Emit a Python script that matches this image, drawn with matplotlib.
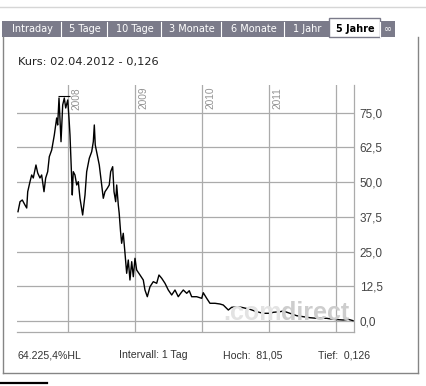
import matplotlib
matplotlib.use("Agg")
import matplotlib.pyplot as plt
from matplotlib.patches import Rectangle
from matplotlib.lines import Line2D

W, H = 426, 386

# Kursverlauf, Zeit als Dezimaljahr, Kurs in EUR
jahre = [2007.254, 2007.284, 2007.318, 2007.358, 2007.384, 2007.399, 2007.433, 2007.458,
         2007.482, 2007.522, 2007.548, 2007.582, 2007.607, 2007.642, 2007.667, 2007.697,
         2007.721, 2007.757, 2007.796, 2007.831, 2007.846, 2007.866, 2007.896, 2007.921,
         2007.945, 2007.966, 2007.996, 2008.015, 2008.030, 2008.055, 2008.064, 2008.079,
         2008.104, 2008.130, 2008.154, 2008.179, 2008.219, 2008.254, 2008.279, 2008.318,
         2008.354, 2008.378, 2008.393, 2008.407, 2008.437, 2008.467, 2008.503, 2008.527,
         2008.552, 2008.587, 2008.616, 2008.637, 2008.667, 2008.687, 2008.712, 2008.727,
         2008.751, 2008.764, 2008.784, 2008.801, 2008.825, 2008.851, 2008.876, 2008.900,
         2008.925, 2008.951, 2008.975, 2009.000, 2009.025, 2009.075, 2009.124, 2009.149,
         2009.184, 2009.224, 2009.273, 2009.324, 2009.358, 2009.399, 2009.448, 2009.497,
         2009.548, 2009.597, 2009.646, 2009.682, 2009.721, 2009.772, 2009.810, 2009.846,
         2009.921, 2009.996, 2010.019, 2010.070, 2010.119, 2010.194, 2010.269, 2010.318,
         2010.393, 2010.443, 2010.542, 2010.616, 2010.716, 2010.816, 2010.915, 2011.015,
         2011.064, 2011.164, 2011.213, 2011.313, 2011.413, 2011.512, 2011.612, 2011.712,
         2011.861, 2011.960, 2012.109, 2012.184, 2012.254]
kurs = [39.37, 42.97, 43.58, 41.78, 40.70, 46.57, 50.17, 52.59,
        51.51, 56.19, 53.31, 51.51, 52.59, 46.57, 51.51, 53.78,
        59.18, 61.59, 67.00, 73.12, 70.60, 80.32, 64.58, 77.80,
        80.32, 76.72, 79.60, 73.12, 67.00, 51.40, 45.39, 53.78,
        52.59, 48.99, 50.17, 44.20, 38.18, 45.39, 53.78, 58.61,
        60.98, 64.58, 70.60, 63.40, 59.79, 56.19, 48.99, 44.20,
        46.57, 47.80, 48.99, 53.78, 55.58, 46.57, 42.97, 48.99,
        41.78, 38.90, 32.40, 27.99, 31.59, 24.39, 17.18, 21.97,
        14.77, 21.36, 15.96, 22.58, 18.37, 16.57, 14.77, 11.17,
        8.75, 12.35, 14.16, 13.58, 16.57, 15.38, 13.58, 11.17,
        9.37, 11.17, 8.75, 9.98, 11.17, 9.98, 10.91, 8.75,
        8.75, 8.18, 10.19, 8.18, 6.38, 6.38, 6.12, 5.76,
        3.96, 4.93, 5.15, 4.79, 4.21, 3.35, 2.77, 2.77,
        3.13, 3.35, 3.60, 2.77, 1.91, 1.55, 1.19, 0.97,
        0.97, 0.61, 0.36, 0.61, 0.126]

hoch = 81.05
y_ticks = [0, 12.5, 25, 37.5, 50, 62.5, 75]
y_labels = ['0,0', '12,5', '25,0', '37,5', '50,0', '62,5', '75,0']
jahr_linien = [2008, 2009, 2010, 2011, 2012]
jahr_labels = ['2008', '2009', '2010', '2011']

tabs = ['Intraday', '5 Tage', '10 Tage', '3 Monate', '6 Monate', '1 Jahr', '5 Jahre', '\u221e']
aktiv = '5 Jahre'
titel = 'Kurs: 02.04.2012 - 0,126'
fuss = ['64.225,4%HL', 'Intervall: 1 Tag', 'Hoch:  81,05', 'Tief:  0,126']

# pixel helpers
def fx(x):
    return x / W

def fy(y):
    return 1 - y / H

fig = plt.figure(figsize=(W / 100, H / 100), dpi=100)
fig.patch.set_facecolor('white')

# top rule and outer box
fig.add_artist(Line2D([0, 1], [fy(7), fy(7)], color='#d6d6d6', lw=1))
for xs, ys in [([2.5, 2.5], [37, 373]), ([418, 418], [37, 373]), ([2.5, 418], [373, 373])]:
    fig.add_artist(Line2D([fx(v) for v in xs], [fy(v) for v in ys], color='#858585', lw=1))
fig.add_artist(Line2D([0, fx(47)], [fy(383), fy(383)], color='black', lw=1.6))

# tab bar
tab_kanten = [2, 61, 107, 161, 221, 284, 328, 380, 395]
fig.add_artist(Rectangle((fx(2), fy(37)), (395 - 2) / W, (37 - 21) / H,
                         transform=fig.transFigure, facecolor='#7b7b8a', edgecolor='none'))
for i, name in enumerate(tabs):
    x0, x1 = tab_kanten[i], tab_kanten[i + 1]
    if name == aktiv:
        fig.add_artist(Rectangle((fx(x0 + 1), fy(37)), (x1 - x0 - 1) / W, (37 - 18) / H,
                                 transform=fig.transFigure, facecolor='white',
                                 edgecolor='#7b7b8a', lw=1))
        fig.text(fx((x0 + x1) / 2 + 1), fy(29), name, ha='center', va='center',
                 fontsize=7, fontweight='bold', color='black', family='DejaVu Sans')
    else:
        if i > 0:
            fig.add_artist(Line2D([fx(x0), fx(x0)], [fy(22), fy(37)], color='white', lw=0.8))
        fig.text(fx((x0 + x1) / 2 + 1), fy(29.5), name, ha='center', va='center',
                 fontsize=7, color='white', family='DejaVu Sans')

fig.text(fx(18), fy(62), titel, ha='left', va='center', fontsize=8.2,
         color='#222222', family='DejaVu Sans')

# chart area
ax = fig.add_axes([fx(17), fy(332), (354 - 17) / W, (332 - 85) / H])
ax.set_facecolor('none')
ax.set_xlim(2007.239, 2012.269)
ax.set_ylim(-3.96, 85.0)

grid_col = '#ababab'
for v in y_ticks:
    ax.axhline(v, color=grid_col, lw=0.9, zorder=1)
for v in jahr_linien:
    ax.axvline(v, color=grid_col, lw=0.9, zorder=1)
for v, lab in zip(jahr_linien, jahr_labels):
    ax.text(v + 3 / 67, 84.3, lab, rotation=90, ha='left', va='top',
            fontsize=7.3, color='#939393', family='Liberation Sans')

for side in ['top', 'left']:
    ax.spines[side].set_visible(False)
for side in ['right', 'bottom']:
    ax.spines[side].set_color(grid_col)
    ax.spines[side].set_linewidth(0.9)

ax.set_xticks([])
ax.yaxis.tick_right()
ax.set_yticks(y_ticks)
ax.set_yticklabels(y_labels, family='Liberation Sans', fontsize=8.5, color='#444444')
ax.tick_params(axis='y', length=0, pad=4)

# watermark, lighter on the left part
renderer = fig.canvas.get_renderer()
t1 = fig.text(fx(223), fy(320), '.com', ha='left', va='baseline', fontsize=18,
              fontweight='bold', color='#e3e3e3', family='Liberation Sans', zorder=2)
bb = t1.get_window_extent(renderer)
fig.text(bb.x1 / W, fy(320), 'direct', ha='left', va='baseline', fontsize=18,
         fontweight='bold', color='#cdcdcd', family='Liberation Sans', zorder=2)

ax.plot(jahre, kurs, color='black', lw=1, zorder=3)
ax.hlines(hoch, 2007.85, 2008.03, color='black', lw=0.8, zorder=3)

fuss_x = [17, 119, 223, 318]
for x, txt in zip(fuss_x, fuss):
    fig.text(fx(x), fy(355), txt, ha='left', va='center', fontsize=7.6,
             color='#333333', family='Liberation Sans')

fig.savefig('out.png', dpi=100)
